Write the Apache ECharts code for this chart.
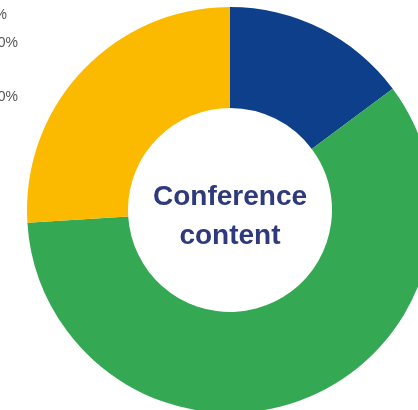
<!DOCTYPE html>
<html><head><meta charset="utf-8">
<script src="https://cdn.jsdelivr.net/npm/echarts@6/dist/echarts.min.js"></script>
<style>html,body{margin:0;padding:0;background:#fff}#c{width:418px;height:410px}</style>
</head><body><div id="c"></div>
<script>
const categories = ['Blue', 'Green', 'Yellow'];
const values = [14.8, 59.2, 26];
const colors = ['#0E3F8A', '#34A853', '#FBBA00'];
const sideLabels = ['15%', '60%', '30%'];
const title = ['Conference', 'content'];

const chart = echarts.init(document.getElementById('c'), null, {renderer: 'canvas'});
chart.setOption({
  animation: false,
  series: [{
    type: 'pie',
    center: [230, 210],
    radius: [102, 203],
    startAngle: 90,
    clockwise: true,
    label: {show: false},
    labelLine: {show: false},
    itemStyle: {borderWidth: 0},
    emphasis: {disabled: true},
    data: categories.map((c, i) => ({name: c, value: values[i], itemStyle: {color: colors[i]}}))
  }],
  graphic: [
    {type: 'text', style: {text: title.join('\n'), x: 230, y: 217, fill: '#2E3A7B', font: 'bold 28px "Liberation Sans", Arial, sans-serif', align: 'center', verticalAlign: 'middle', lineHeight: 39}},
    {type: 'text', style: {text: sideLabels[0], x: 7, y: 15, fill: '#555', font: '14px "Liberation Sans", Arial, sans-serif', align: 'right', verticalAlign: 'middle'}},
    {type: 'text', style: {text: sideLabels[1], x: 18, y: 43, fill: '#555', font: '14px "Liberation Sans", Arial, sans-serif', align: 'right', verticalAlign: 'middle'}},
    {type: 'text', style: {text: sideLabels[2], x: 18, y: 97, fill: '#555', font: '14px "Liberation Sans", Arial, sans-serif', align: 'right', verticalAlign: 'middle'}}
  ]
});
</script></body></html>
